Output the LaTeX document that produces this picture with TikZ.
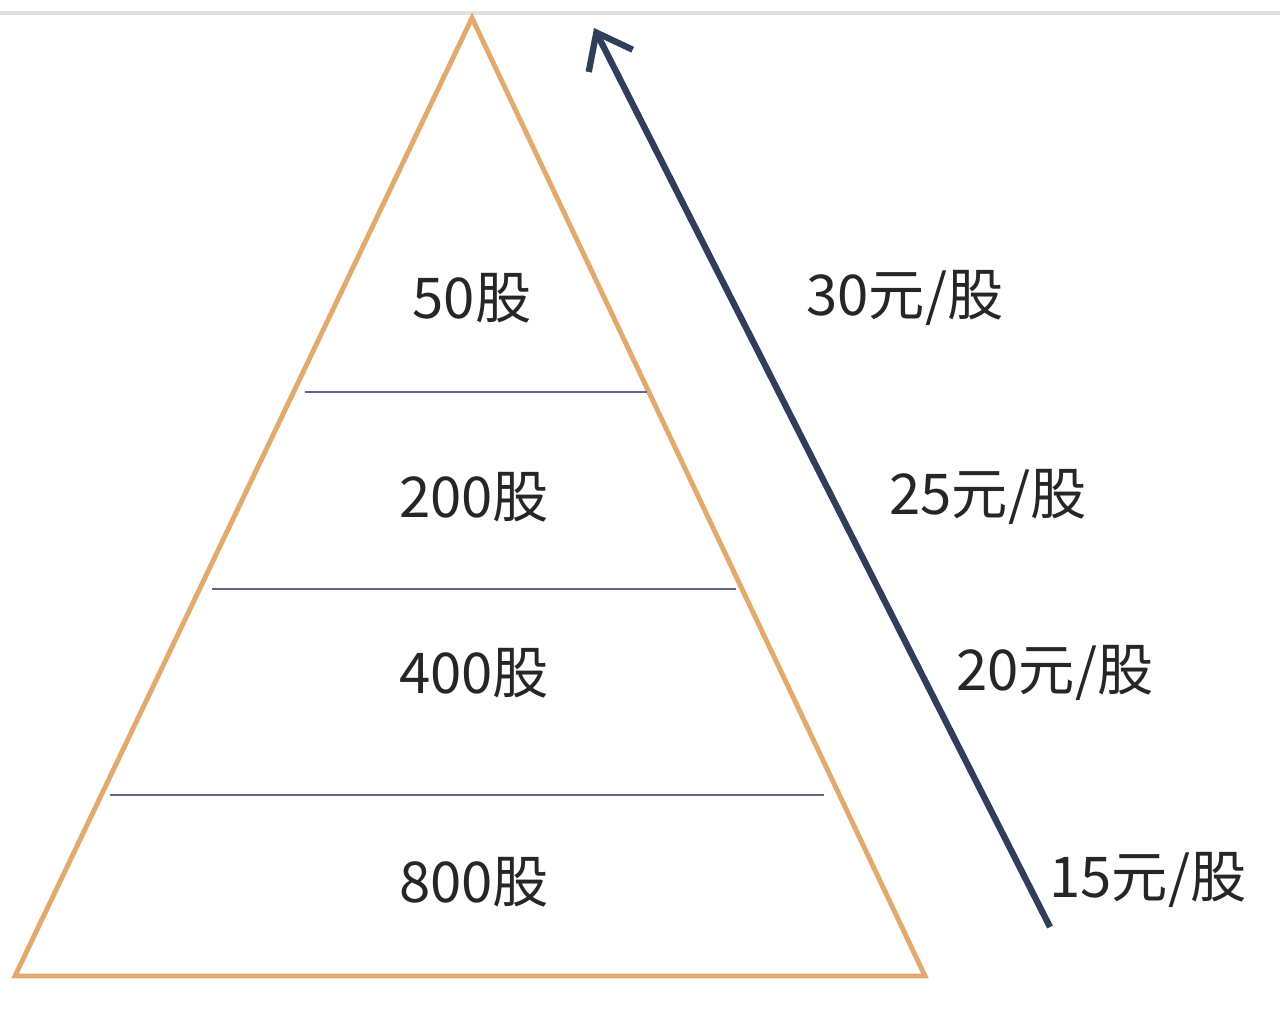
\documentclass[tikz,border=0pt]{standalone}
\usepackage{fontspec}
\setmainfont{Noto Sans CJK SC}
\usetikzlibrary{arrows.meta}

\definecolor{pyramidline}{RGB}{226,170,110}
\definecolor{layerline}{RGB}{95,105,125}
\definecolor{pricearrow}{RGB}{48,62,92}

\tikzset{
  label/.style={font=\fontsize{16}{18}\selectfont, text=black!85},
  layer/.style={layerline, line width=0.6pt},
}

\begin{document}
\begin{tikzpicture}[x=0.01cm, y=-0.01cm]

\useasboundingbox (0,0) rectangle (1280,1021);

%Top border
\draw [black!12, line width=1pt] (0,13) -- (1280,13);

%Pyramid
\coordinate (top) at (472,18);
\coordinate (left) at (15,976);
\coordinate (right) at (925,976);
\draw [pyramidline, line width=1.4pt] (top) -- (left) -- (right) -- cycle;

%Layer lines
\coordinate (l1a) at (305,392);
\coordinate (l1b) at (647,392);
\coordinate (l2a) at (212,589);
\coordinate (l2b) at (736,589);
\coordinate (l3a) at (110,795);
\coordinate (l3b) at (824,795);
\draw [layer] (l1a) -- (l1b);
\draw [layer] (l2a) -- (l2b);
\draw [layer] (l3a) -- (l3b);

%Layer labels
\node [label] (n50) at (472,298) {50股};
\node [label] (n200) at (474,497) {200股};
\node [label] (n400) at (474,673) {400股};
\node [label] (n800) at (474,882) {800股};

%Price arrow
\coordinate (foot) at (1050,927);
\coordinate (tip) at (594,28);
\draw [pricearrow, line width=1.8pt, -{Straight Barb[length=9pt, width=14pt, line width=1.8pt]}] (foot) -- (tip);

%Price labels
\node [label] (p30) at (905,298) {30元/股};
\node [label] (p25) at (988,497) {25元/股};
\node [label] (p20) at (1055,673) {20元/股};
\node [label] (p15) at (1148,880) {15元/股};

\end{tikzpicture}
\end{document}
